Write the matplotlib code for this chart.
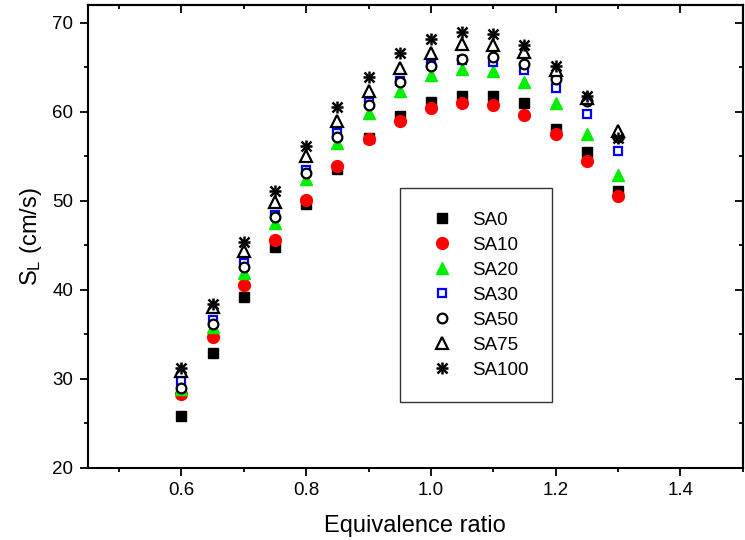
import matplotlib
matplotlib.use("Agg")
import matplotlib.pyplot as plt
from matplotlib.ticker import MultipleLocator, NullFormatter

plt.rcParams["font.family"] = ["Liberation Sans", "DejaVu Sans"]
plt.rcParams["mathtext.fontset"] = "custom"
plt.rcParams["mathtext.rm"] = "Liberation Sans"
plt.rcParams["mathtext.it"] = "Liberation Sans"

# equivalence ratio
phi = [0.60, 0.65, 0.70, 0.75, 0.80, 0.85, 0.90, 0.95, 1.00, 1.05, 1.10, 1.15, 1.20, 1.25, 1.30]

# laminar burning velocity (cm/s)
sa0   = [25.8, 32.9, 39.2, 44.8, 49.6, 53.6, 57.0, 59.5, 61.1, 61.8, 61.8, 61.0, 58.0, 55.5, 51.1]
sa10  = [28.3, 34.7, 40.5, 45.6, 50.1, 53.9, 56.9, 59.0, 60.4, 61.0, 60.8, 59.6, 57.5, 54.4, 50.5]
sa20  = [28.8, 35.8, 41.9, 47.5, 52.4, 56.5, 59.9, 62.3, 64.1, 64.8, 64.6, 63.3, 61.0, 57.5, 52.9]
sa30  = [29.7, 36.6, 43.0, 48.4, 53.5, 57.6, 61.1, 63.4, 65.3, 65.8, 65.6, 64.7, 62.7, 59.7, 55.6]
sa50  = [28.9, 36.1, 42.5, 48.2, 53.1, 57.2, 60.7, 63.3, 65.1, 65.9, 66.1, 65.3, 63.7, 61.2, 57.2]
sa75  = [30.9, 38.0, 44.3, 49.9, 55.0, 58.9, 62.3, 64.9, 66.6, 67.6, 67.5, 66.7, 64.7, 61.5, 57.8]
sa100 = [31.2, 38.4, 45.3, 51.1, 56.1, 60.5, 63.9, 66.6, 68.2, 69.0, 68.7, 67.5, 65.1, 61.8, 57.0]

labels = ["SA0", "SA10", "SA20", "SA30", "SA50", "SA75", "SA100"]


fig = plt.figure( figsize=( 7.45, 5.4 ), dpi=100 )
ax = fig.add_axes( [0.118, 0.134, 0.879, 0.857] )

h0, = ax.plot( phi, sa0, ls="none", marker="s", ms=7, color="black" )
h1, = ax.plot( phi, sa10, ls="none", marker="o", ms=8.5, color="red" )
h2, = ax.plot( phi, sa20, ls="none", marker="^", ms=9, color="#00ee00" )
h3, = ax.plot( phi, sa30, ls="none", marker="s", ms=6, mfc="white", mec="blue", mew=1.6 )
h4, = ax.plot( phi, sa50, ls="none", marker="o", ms=7, mfc="white", mec="black", mew=1.6 )
h5, = ax.plot( phi, sa75, ls="none", marker="^", ms=8, mfc="white", mec="black", mew=1.6 )
h6a, = ax.plot( phi, sa100, ls="none", marker="+", ms=9, mec="black", mew=1.8 )
h6b, = ax.plot( phi, sa100, ls="none", marker="x", ms=7, mec="black", mew=1.8 )

handles = [h0, h1, h2, h3, h4, h5, (h6a, h6b)]
leg = ax.legend( handles, labels, loc="upper left", bbox_to_anchor=( 0.476, 0.604 ),
                 frameon=True, fancybox=False, edgecolor="black", fontsize=13.5,
                 labelspacing=0.42, handlelength=2.0, handletextpad=0.6,
                 borderpad=1.25, borderaxespad=0 )
leg.get_frame().set_linewidth( 1.0 )

xmin, xmax = 0.45, 1.5
ymin, ymax = 20, 72
ax.set_xlim( xmin, xmax )
ax.set_ylim( ymin, ymax )
ax.set_xticks( [0.6, 0.8, 1.0, 1.2, 1.4] )
ax.set_xticklabels( ["0.6", "0.8", "1.0", "1.2", "1.4"] )
ax.xaxis.set_minor_locator( MultipleLocator( 0.1 ) )
ax.yaxis.set_major_locator( MultipleLocator( 10 ) )
ax.yaxis.set_minor_locator( MultipleLocator( 5 ) )

ax.tick_params( which="both", direction="out", width=1.3 )
ax.tick_params( which="major", length=5.5, labelsize=13.5, pad=5 )
ax.tick_params( which="minor", length=3 )

# mirrored axes: ticks pointing inward, no labels
axt = ax.secondary_xaxis( "top" )
axt.set_xticks( [0.6, 0.8, 1.0, 1.2, 1.4] )
axt.xaxis.set_minor_locator( MultipleLocator( 0.1 ) )
axt.xaxis.set_major_formatter( NullFormatter() )
axt.tick_params( which="both", direction="in", width=1.3 )
axt.tick_params( which="major", length=5.5 )
axt.tick_params( which="minor", length=3 )

axr = ax.secondary_yaxis( "right" )
axr.yaxis.set_major_locator( MultipleLocator( 10 ) )
axr.yaxis.set_minor_locator( MultipleLocator( 5 ) )
axr.yaxis.set_major_formatter( NullFormatter() )
axr.tick_params( which="both", direction="in", width=1.3 )
axr.tick_params( which="major", length=5.5 )
axr.tick_params( which="minor", length=3 )

for sp in list( ax.spines.values() ) + [axt.spines["top"], axr.spines["right"]]:
    sp.set_linewidth( 1.5 )

ax.set_xlabel( "Equivalence ratio", fontsize=17, labelpad=11 )
ax.set_ylabel( r"S$_\mathrm{L}$ (cm/s)", fontsize=17, labelpad=6 )

fig.savefig( "out.png", dpi=100 )
